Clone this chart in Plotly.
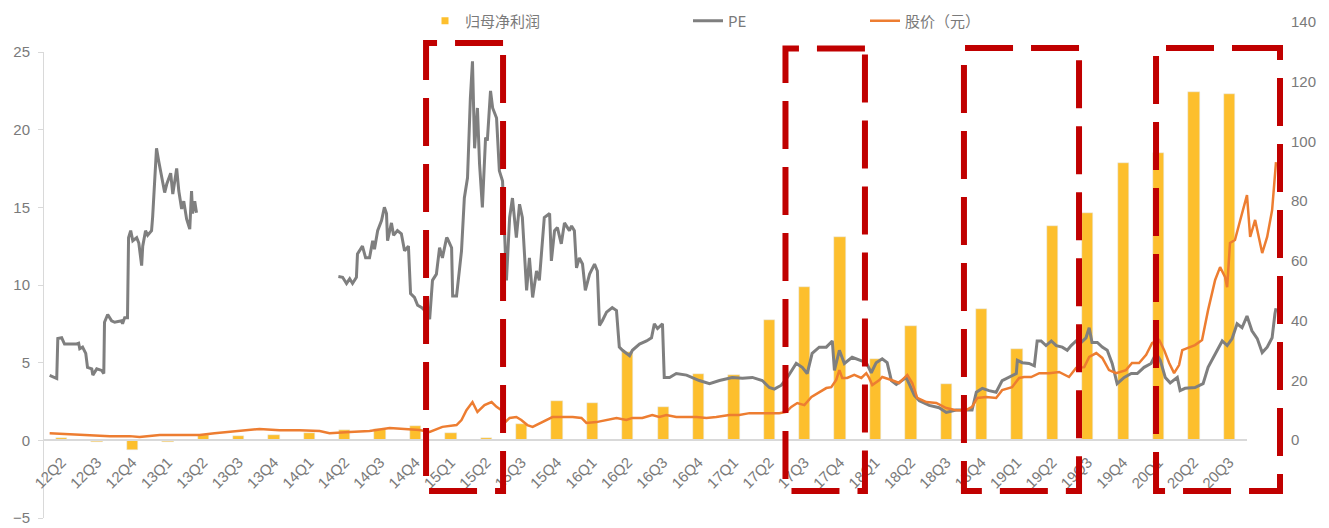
import plotly.graph_objects as go

# ---------------- data ----------------
QUARTERS = ['12Q2', '12Q3', '12Q4', '13Q1', '13Q2', '13Q3', '13Q4', '14Q1', '14Q2', '14Q3',
            '14Q4', '15Q1', '15Q2', '15Q3', '15Q4', '16Q1', '16Q2', '16Q3', '16Q4', '17Q1',
            '17Q2', '17Q3', '17Q4', '18Q1', '18Q2', '18Q3', '18Q4', '19Q1', '19Q2', '19Q3',
            '19Q4', '20Q1', '20Q2', '20Q3']
NET_PROFIT = [0.17, -0.1, -0.64, -0.1, 0.36, 0.26, 0.32, 0.49, 0.66, 0.76,
              0.95, 0.45, 0.17, 1.07, 2.53, 2.40, 5.68, 2.14, 4.28, 4.18,
              7.75, 9.85, 13.07, 5.25, 7.39, 3.6, 8.44, 5.87, 13.82, 14.61,
              17.85, 18.5, 22.43, 22.32]

# PE line: position in quarter units (0 = 12Q2), None = gap in data
PE_POS = [-0.34, -0.20, -0.14, -0.11, 0.00, 0.08, 0.42, 0.48, 0.51, 0.59, 0.68, 0.73, 0.85, 0.88,
          0.99, 1.13, 1.19, 1.21, 1.30, 1.41, 1.50, 1.69, 1.72, 1.78, 1.86, 1.89, 1.95, 2.01,
          2.12, 2.18, 2.26, 2.29, 2.37, 2.43, 2.54, 2.57, 2.63, 2.68, 2.74, 2.82, 2.91, 2.97,
          3.08, 3.14, 3.25, 3.31, 3.39, 3.45, 3.53, 3.62, 3.67, 3.70, 3.76, 3.81,
          5.80,
          7.82, 7.94, 8.05, 8.14, 8.22, 8.33, 8.36, 8.50, 8.59, 8.70, 8.79, 8.84, 8.93, 9.04,
          9.12, 9.18, 9.21, 9.32, 9.38, 9.49, 9.60, 9.69, 9.80, 9.86, 9.97, 10.06, 10.17, 10.31,
          10.40, 10.48, 10.59, 10.68, 10.76, 10.88, 10.90, 11.02, 11.05, 11.16, 11.30, 11.38,
          11.47, 11.55, 11.61, 11.67, 11.75, 11.81, 11.89, 11.98, 12.03, 12.12, 12.18, 12.29,
          12.37, 12.46, 12.57, 12.66, 12.74, 12.85, 12.94, 13.02, 13.14, 13.22, 13.31, 13.42,
          13.50, 13.64, 13.79, 13.84, 13.93, 14.01, 14.12, 14.21, 14.35, 14.41, 14.49, 14.55,
          14.63, 14.72, 14.80, 14.92, 15.06, 15.14, 15.20, 15.28, 15.40, 15.56, 15.68, 15.76,
          15.85, 16.05, 16.13, 16.33, 16.53, 16.67, 16.75, 16.84, 16.98, 17.03, 17.18, 17.37,
          17.66, 17.80, 18.02, 18.31, 18.59, 18.95, 19.24, 19.52, 19.80, 20.00, 20.14, 20.34,
          20.51, 20.76, 20.93, 21.07, 21.21, 21.41, 21.61, 21.78, 21.84, 21.98, 22.12, 22.34,
          22.60, 22.74, 22.88, 23.02, 23.19, 23.33, 23.45, 23.59, 23.87, 24.10, 24.24, 24.52,
          24.80, 25.00, 25.28, 25.56, 25.73, 25.85, 26.02, 26.21, 26.41, 26.58, 26.78, 26.98,
          27.01, 27.15, 27.34, 27.49, 27.57, 27.68, 27.82, 27.97, 28.11, 28.28, 28.42, 28.53,
          28.67, 28.81, 28.95, 29.04, 29.12, 29.27, 29.41, 29.55, 29.69, 29.83, 30.03, 30.23,
          30.40, 30.59, 30.79, 30.93, 31.05, 31.19, 31.33, 31.53, 31.61, 31.75, 32.03, 32.26,
          32.40, 32.60, 32.80, 32.94, 33.08, 33.22, 33.36, 33.50, 33.64, 33.79, 33.93, 34.07,
          34.21, 34.29, 34.32]
PE = [4.18, 4.05, 3.98, 6.55, 6.6, 6.2, 6.2, 6.25, 5.9, 6.0, 5.6, 4.7, 4.6, 4.2,
      4.6, 4.5, 4.3, 7.6, 8.1, 7.7, 7.6, 7.7, 7.5, 7.9, 7.9, 13.05, 13.5, 12.85,
      13.05, 12.7, 11.25, 12.5, 13.5, 13.2, 13.5, 14.35, 16.9, 18.8, 18.0, 16.9, 15.95, 16.5,
      17.2, 15.85, 17.5, 16.05, 14.9, 15.4, 14.25, 13.6, 16.05, 14.6, 15.4, 14.65,
      None,
      10.55, 10.5, 10.1, 10.4, 10.1, 10.5, 12.0, 12.5, 11.75, 11.75, 12.85, 12.3, 13.5, 14.15,
      15.0, 14.6, 12.85, 14.0, 13.2, 13.5, 13.3, 12.2, 12.5, 9.45, 9.2, 8.7, 8.55, 8.25,
      7.8, 10.3, 10.7, 12.4, 11.75, 13.05, 13.0, 12.4, 9.3, 9.3, 12.2, 15.6,
      16.9, 22.0, 24.4, 18.8, 21.4, 17.8, 15.0, 19.5, 19.3, 22.5, 21.4, 20.75,
      17.35, 16.7, 10.3, 14.35, 15.6, 13.05, 15.2, 14.35, 9.65, 11.75, 9.2, 10.9,
      10.3, 14.35, 14.6, 11.55, 13.5, 13.7, 12.65, 14.0, 13.5, 13.8, 13.5, 11.1,
      11.75, 11.35, 9.65, 10.7, 11.35, 10.9, 7.4, 7.7, 8.25, 8.55, 8.35, 6.0,
      5.8, 5.45, 5.8, 6.2, 6.4, 6.6, 7.5, 7.2, 7.5, 4.05, 4.05, 4.3,
      4.2, 4.05, 3.85, 3.65, 3.85, 4.05, 4.0, 4.05, 3.85, 3.4, 3.3, 3.55,
      4.05, 4.95, 4.7, 4.3, 5.6, 6.0, 6.0, 6.4, 4.5, 5.8, 4.95, 5.35,
      5.15, 5.0, 4.35, 5.0, 5.25, 5.0, 3.85, 3.6, 4.05, 2.9, 2.55, 2.25,
      2.1, 1.8, 1.95, 1.95, 1.95, 3.1, 3.35, 3.2, 3.1, 3.85, 4.05, 4.3,
      5.15, 5.0, 4.95, 4.8, 6.4, 6.4, 6.1, 6.4, 6.1, 6.0, 5.8, 6.1,
      6.4, 6.3, 6.6, 7.25, 6.3, 6.3, 6.0, 5.8, 4.95, 3.65, 4.05, 4.3,
      4.3, 4.7, 4.95, 5.6, 5.15, 4.05, 3.7, 4.05, 3.2, 3.35, 3.4, 3.65,
      4.7, 5.6, 6.4, 6.1, 6.55, 7.5, 7.25, 8.0, 7.05, 6.55, 5.65, 6.0,
      6.6, 8.15, 8.5]

# share price (yuan), right axis
PRICE_POS = [-0.34, 0.23, 0.79, 1.36, 1.92, 2.20, 2.77, 3.33, 3.90, 4.32, 5.03, 5.59, 6.16,
             6.72, 7.29, 7.57, 8.14, 8.70, 9.27, 9.83, 10.11, 10.40, 10.76, 11.16, 11.30,
             11.44, 11.61, 11.75, 11.95, 12.15, 12.29, 12.43, 12.51, 12.66, 12.85, 12.99,
             13.16, 13.31, 13.59, 13.87, 14.15, 14.44, 14.69, 14.83, 15.11, 15.40, 15.68,
             15.96, 16.13, 16.41, 16.69, 16.89, 17.09, 17.37, 17.66, 17.94, 18.22, 18.50,
             18.87, 19.15, 19.44, 19.72, 20.00, 20.28, 20.48, 20.62, 20.79, 20.99, 21.19,
             21.41, 21.61, 21.75, 21.89, 21.98, 22.06, 22.20, 22.40, 22.60, 22.74, 22.82,
             22.91, 23.11, 23.19, 23.45, 23.67, 23.90, 24.04, 24.18, 24.44, 24.72, 25.00,
             25.28, 25.56, 25.73, 25.88, 26.13, 26.41, 26.58, 26.86, 27.06, 27.20, 27.40,
             27.63, 27.91, 28.19, 28.47, 28.67, 28.90, 29.04, 29.24, 29.41, 29.60, 29.80,
             30.08, 30.25, 30.45, 30.65, 30.82, 31.02, 31.16, 31.30, 31.44, 31.58, 31.67,
             31.86, 32.03, 32.23, 32.40, 32.60, 32.74, 32.88, 32.94, 33.02, 33.16, 33.31,
             33.50, 33.59, 33.73, 33.93, 34.07, 34.21, 34.32]
PRICE = [2.3, 2.0, 1.7, 1.3, 1.3, 1.0, 1.7, 1.7, 1.7, 2.3, 3.0, 3.7, 3.3,
         3.3, 3.0, 2.3, 2.7, 3.0, 4.0, 3.7, 3.35, 2.7, 4.4, 5.0, 6.7,
         10.0, 12.7, 9.4, 11.7, 12.7, 11.1, 10.0, 5.7, 7.4, 7.7, 6.7,
         5.0, 4.4, 6.0, 7.7, 7.7, 7.7, 7.4, 5.7, 6.0, 6.7, 7.4,
         6.7, 7.4, 7.4, 8.4, 7.7, 8.4, 7.7, 7.7, 7.7, 7.4, 7.7,
         8.4, 8.4, 9.0, 9.0, 9.0, 9.0, 9.4, 11.1, 12.4, 11.7, 14.4,
         16.1, 17.4, 17.7, 20.1, 23.4, 20.8, 20.8, 21.8, 20.8, 22.4, 20.8,
         18.4, 20.1, 21.1, 20.1, 19.1, 21.8, 19.1, 14.1, 12.7, 12.4, 10.7,
         10.0, 10.0, 11.1, 14.1, 14.4, 14.1, 16.7, 17.7, 20.8, 21.1, 21.1,
         22.4, 22.4, 22.8, 21.1, 24.1, 24.4, 27.8, 29.1, 27.5, 23.4, 22.4,
         23.4, 25.8, 25.8, 28.5, 32.5, 33.5, 30.1, 25.8, 22.4, 25.1, 30.1,
         31.1, 31.8, 33.5, 43.5, 53.6, 57.9, 54.6, 51.2, 66.0, 67.0, 73.7,
         82.0, 68.0, 73.7, 62.6, 68.0, 77.0, 93.1]

LEFT_TICKS = [-5, 0, 5, 10, 15, 20, 25]
RIGHT_TICKS = [0, 20, 40, 60, 80, 100, 120, 140]

NAMES = ['归母净利润', 'PE', '股价（元）']

# ---------------- style ----------------
BAR_C = '#FDBF2D'
PE_C = '#7F7F7F'
PRICE_C = '#ED7D31'
BOX_C = '#C00000'
TXT_C = '#7A7A7A'
AX_C = '#D9D9D9'
FONT = 'Liberation Sans, Arial, Noto Sans CJK SC'
CJK = 'Noto Sans CJK SC, Microsoft YaHei, sans-serif'

fig = go.Figure()

fig.add_trace(go.Bar(x=QUARTERS, y=NET_PROFIT, xaxis='x', yaxis='y', marker_color=BAR_C,
                     width=0.32, showlegend=False, name=NAMES[0]))
# legend entry for the bars (small square swatch like the original)
fig.add_trace(go.Scatter(x=[None], y=[None], xaxis='x', yaxis='y', mode='markers',
                         marker=dict(symbol='square', size=7, color=BAR_C),
                         name=NAMES[0], legend='legend'))
fig.add_trace(go.Scatter(x=PE_POS, y=PE, xaxis='x2', yaxis='y2', mode='lines',
                         line=dict(color=PE_C, width=3), name=NAMES[1], legend='legend2',
                         connectgaps=False))
fig.add_trace(go.Scatter(x=PRICE_POS, y=PRICE, xaxis='x2', yaxis='y3', mode='lines',
                         line=dict(color=PRICE_C, width=2.5), name=NAMES[2], legend='legend3'))

# dashed red highlight boxes (paper coords: right, left, top, bottom)
BOXES = [(0.3714, 0.3091, 0.9538, 0.0542),
         (0.6642, 0.5999, 0.9428, 0.0542),
         (0.8374, 0.7443, 0.9438, 0.0542),
         (1.0000, 0.8997, 0.9438, 0.0542)]
for r, l, t, b in BOXES:
    fig.add_shape(type='rect', xref='paper', yref='paper', x0=r, x1=l, y0=t, y1=b,
                  line=dict(color=BOX_C, width=6, dash='48px,18px'), layer='above')

legend_common = dict(orientation='h', yanchor='middle', y=0.998, xanchor='left',
                     bgcolor='rgba(0,0,0,0)', font=dict(family=CJK, size=15, color=TXT_C),
                     borderwidth=0)

fig.update_layout(
    width=1329, height=528,
    margin=dict(l=44, r=49, t=20, b=10, autoexpand=False),
    paper_bgcolor='white', plot_bgcolor='rgba(0,0,0,0)',
    font=dict(family=FONT, color=TXT_C, size=14),
    bargap=0,
    xaxis=dict(domain=[0, 0.9733], type='category', range=[-0.5, 33.5], anchor='free',
               position=0.1566, showline=True, linecolor=AX_C, linewidth=1.5,
               ticks='', showgrid=False, tickangle=-45, zeroline=False, automargin=False,
               ticklabelstandoff=7,
               tickfont=dict(family=FONT, size=15, color=TXT_C)),
    yaxis=dict(domain=[0, 0.9357], range=[-5, 25], anchor='x', tickvals=LEFT_TICKS,
               showline=True, linecolor=AX_C, linewidth=1, ticks='outside', ticklen=5,
               tickcolor=AX_C, showgrid=False, zeroline=False, automargin=False,
               ticklabelstandoff=5,
               tickfont=dict(family=FONT, size=15, color=TXT_C)),
    xaxis2=dict(domain=[0, 1], range=[-0.5, 34.433], anchor='y2', visible=False),
    yaxis2=dict(domain=[0, 0.9357], range=[-5, 25], anchor='x2', visible=False),
    yaxis3=dict(domain=[0, 1], range=[-26.12, 140.67], anchor='x2', side='right',
                tickvals=RIGHT_TICKS, showline=False, ticks='', showgrid=False,
                zeroline=False, ticklabelstandoff=10, automargin=False,
                tickfont=dict(family=FONT, size=15, color=TXT_C)),
    legend=dict(legend_common, x=(425 - 44) / 1236),
    legend2=dict(legend_common, x=(688 - 44) / 1236),
    legend3=dict(legend_common, x=(865 - 44) / 1236),
)

fig.write_html('out.html')
